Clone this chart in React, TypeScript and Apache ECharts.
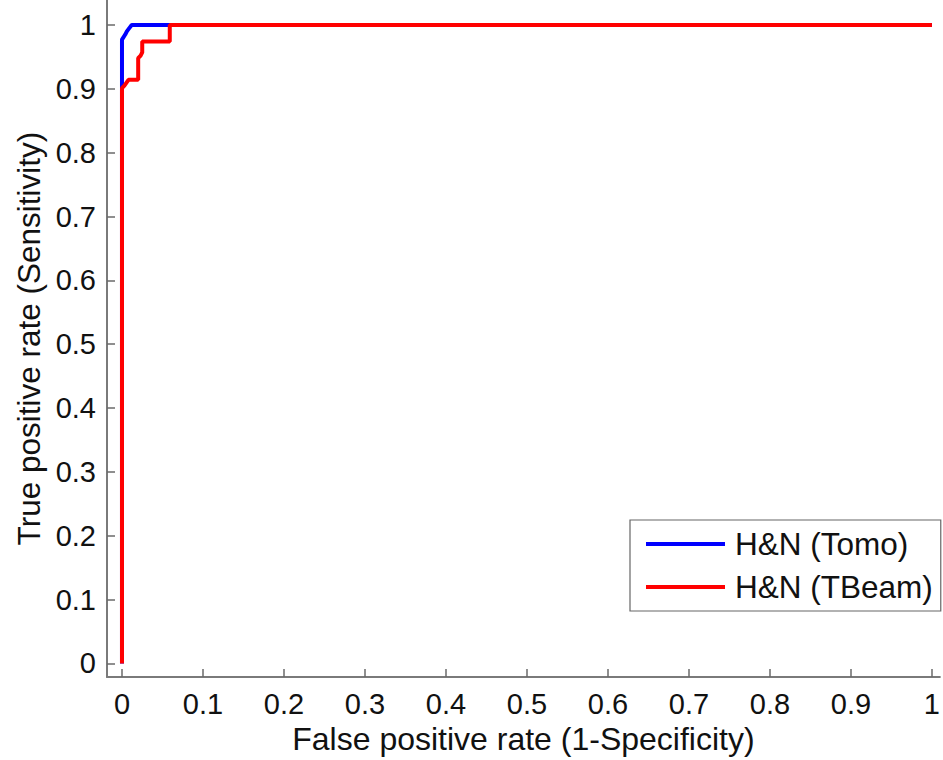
import React, { useEffect, useRef } from "react";
import * as echarts from "echarts";

const tickValues = [0, 0.1, 0.2, 0.3, 0.4, 0.5, 0.6, 0.7, 0.8, 0.9, 1];
const seriesNames = ["H&N (Tomo)", "H&N (TBeam)"];
const tomoFpr = [0, 0, 0, 0.004, 0.006, 0.009, 0.012, 1];
const tomoTpr = [0, 0.9, 0.977, 0.985, 0.99, 0.995, 1, 1];
const tbeamFpr = [0, 0, 0.003, 0.008, 0.02, 0.02, 0.023, 0.025, 0.025, 0.059, 0.059, 1];
const tbeamTpr = [0, 0.901, 0.905, 0.914, 0.914, 0.948, 0.952, 0.957, 0.974, 0.974, 1, 1];

const FONT = "'Liberation Sans', Arial, Helvetica, sans-serif";

export default function App() {
  const ref = useRef<HTMLDivElement>(null);
  useEffect(() => {
    if (!ref.current) return;
    const chart = echarts.init(ref.current, null, { renderer: "svg" });
    const axisCommon = {
      axisLine: { show: true, onZero: false, lineStyle: { color: "#7a7a7a", width: 2 } },
      axisTick: {
        show: true,
        inside: true,
        length: 8,
        customValues: tickValues,
        lineStyle: { color: "#6a6a6a", width: 1.5 },
      },
      axisLabel: {
        customValues: tickValues,
        color: "#111",
        fontSize: 29,
        fontFamily: FONT,
        formatter: (v: number) => String(+Number(v).toFixed(1)),
      },
      splitLine: { show: false },
      nameLocation: "middle" as const,
    };
    chart.setOption({
      animation: false,
      backgroundColor: "#fff",
      grid: { left: 107, right: 0, top: 0, bottom: 760 - 678 },
      xAxis: {
        type: "value",
        min: -0.0185,
        max: 1.0098,
        name: "False positive rate (1-Specificity)",
        nameGap: 29,
        ...axisCommon,
        nameTextStyle: { color: "#111", fontSize: 32, fontFamily: FONT },
        axisLabel: { ...axisCommon.axisLabel, margin: 12 },
      },
      yAxis: {
        type: "value",
        min: -0.0214,
        max: 1.0391,
        name: "True positive rate (Sensitivity)",
        nameGap: 62,
        ...axisCommon,
        nameTextStyle: { color: "#111", fontSize: 31.5, fontFamily: FONT },
        axisLabel: { ...axisCommon.axisLabel, margin: 11 },
      },
      legend: {
        orient: "vertical",
        left: 630,
        top: 520,
        padding: [8, 8, 8, 16],
        itemWidth: 79,
        itemHeight: 4,
        itemGap: 11,
        icon: "rect",
        borderColor: "#666",
        borderWidth: 1.2,
        backgroundColor: "#fff",
        textStyle: { fontSize: 31.5, fontFamily: FONT, color: "#111", padding: [0, 0, 0, 5] },
        data: seriesNames,
      },
      series: [
        {
          name: seriesNames[0],
          type: "line",
          showSymbol: false,
          symbol: "none",
          color: "#0000ff",
          lineStyle: { color: "#0000ff", width: 4 },
          data: tomoFpr.map((x, i) => [x, tomoTpr[i]]),
          z: 2,
        },
        {
          name: seriesNames[1],
          type: "line",
          showSymbol: false,
          symbol: "none",
          color: "#ff0000",
          lineStyle: { color: "#ff0000", width: 4 },
          data: tbeamFpr.map((x, i) => [x, tbeamTpr[i]]),
          z: 3,
        },
      ],
    });
    return () => chart.dispose();
  }, []);
  return (
    <div
      ref={ref}
      style={{ position: "absolute", left: 0, top: 0, width: 943, height: 760, background: "#fff" }}
    />
  );
}
